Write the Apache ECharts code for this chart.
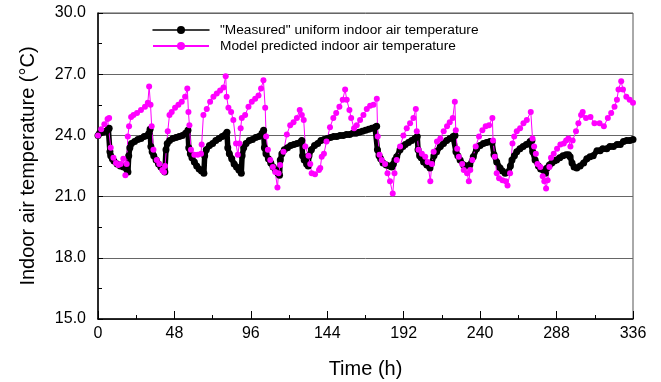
<!DOCTYPE html>
<html>
<head>
<meta charset="utf-8">
<script src="https://cdn.jsdelivr.net/npm/echarts@6/dist/echarts.min.js"></script>
<style>
html,body{margin:0;padding:0;background:#fff;}
#c{width:661px;height:382px;}
</style>
</head>
<body>
<div id="c"></div>
<script>
// ---- data ----
const xTicks = [0, 48, 96, 144, 192, 240, 288, 336];
const yTicks = [15.0, 18.0, 21.0, 24.0, 27.0, 30.0];
const seriesNames = ['"Measured" uniform indoor air temperature', 'Model predicted indoor air temperature'];

const measuredTime = [0,1,3,5,6.5,7,7.5,8,9,10,12,14,16,18,18.8,19.3,20,21,23,25,27,29,31,32,32.7,
  33.2,34,35,36.5,38,39.5,41,42,42.7,43.5,45,47,49,51,53,55,56.5,
  57,58,59,60.5,62,63.5,65,66.5,67,68,70,72,74,76,78,80,81,
  81.5,82.5,84,85.5,87,88.5,90,90.5,91.5,93,95,97,99,101,103,104,
  104.5,105.5,107,108.5,110,111.5,113,114,114.5,115.5,117,119,121,123,125,127,128,
  128.5,129.5,131,132,132.5,134,136,138,140,142,144,146,148,150,152,154,156,158,160,162,164,166,168,170,172,174,175,
  175.5,176.5,177.5,179,181,183,184.5,185.5,186.5,187.6,189.7,191.5,193,195,197,199,200.5,
  201,202,203,204.5,206.5,208.5,209.5,211,212.7,215,217,219,221,223,224.2,
  224.8,226,227.4,229.6,231.6,233.5,235.7,237.8,240,242,244,246.2,247.5,
  248.7,250.4,252.5,254,255.7,257.7,259,260,261.5,263,265,267,269,271.4,272.5,
  273,274.5,276.6,278,279.7,281,282,283.5,285,286.5,288,290,292,294,295.5,296.5,297.7,299,300.7,302.8,
  305,307,309,311,313.4,315.3,317,319.5,321.5,323.7,326,328,330,332,334,336];
const measuredTemp = [24.0,24.1,24.15,24.2,24.3,24.35,23.2,23.0,22.85,22.75,22.6,22.5,22.45,22.35,22.2,23.0,23.4,23.6,23.7,23.8,23.85,23.95,24.0,24.1,24.3,
  23.45,23.2,23.0,22.8,22.6,22.45,22.3,22.2,23.3,23.6,23.75,23.85,23.9,23.95,24.0,24.1,24.25,
  23.4,23.1,22.9,22.7,22.5,22.35,22.25,22.15,23.0,23.3,23.5,23.6,23.75,23.85,23.95,24.05,24.15,
  23.4,23.1,22.85,22.6,22.45,22.3,22.15,23.0,23.4,23.6,23.75,23.8,23.9,23.95,24.1,24.25,
  23.4,23.1,22.85,22.65,22.45,22.3,22.15,22.05,22.8,23.1,23.3,23.4,23.5,23.55,23.6,23.65,23.75,
  23.0,22.8,22.6,22.5,23.0,23.3,23.5,23.6,23.75,23.8,23.85,23.9,23.95,23.95,24.0,24.0,24.05,24.05,24.1,24.1,24.15,24.2,24.25,24.3,24.35,24.4,24.45,
  23.3,23.0,22.85,22.65,22.55,22.5,22.45,22.6,22.8,22.95,23.3,23.45,23.55,23.65,23.75,23.85,23.95,
  23.3,23.0,22.9,22.7,22.55,22.4,22.65,23.0,23.2,23.45,23.6,23.75,23.85,23.95,24.0,
  23.2,23.0,22.8,22.55,22.5,22.55,22.95,23.35,23.5,23.6,23.65,23.7,23.65,
  23.05,22.7,22.4,22.25,22.15,22.2,22.5,22.8,23.0,23.2,23.35,23.45,23.55,23.7,23.75,
  23.2,22.8,22.5,22.35,22.3,22.15,22.4,22.55,22.65,22.75,22.8,22.9,23.0,23.05,23.05,22.95,22.65,22.45,22.4,22.5,
  22.65,22.85,22.95,23.0,23.25,23.25,23.35,23.35,23.45,23.45,23.55,23.55,23.7,23.75,23.75,23.8];

const predictedTime = [0,2,4,6,7,8,9.7,11.3,12.8,14.2,15.9,17.2,18,18.7,19.5,20.8,22.3,24.5,27,29.5,31.3,32.1,33,33.7,34.8,36.9,38.5,40.4,41.5,42.1,
  43.8,44.9,46.3,48.4,50.5,52.6,54.7,56.1,56.8,57.4,58.4,60.5,62.6,64.7,65.1,66.2,68.3,70.4,72.5,74.6,76.7,78.8,80.2,80.8,81.9,83.6,85,86.7,87.8,88.8,
  89.6,90.3,92.4,94.5,96.6,98.7,100.8,102.4,103.9,105,105.6,106.7,108.2,109.8,111.3,112.7,113.4,114.4,116.5,118.6,120.7,122.8,124.9,126.7,128,129.2,
  130.2,132.2,133.3,134.2,136.3,138.8,139.6,140.5,141.9,143.5,145.7,147.8,149.6,151.6,153.7,155.2,156.2,157.9,159,160.8,162.5,164.6,166.7,168.8,170.9,173,175.1,
  175.7,176.8,178.2,180.3,181.8,183.4,185.1,186.2,187.6,189.7,191.8,193.9,196,198.1,199.6,200.2,201.3,203.4,205.5,207,208.7,209.7,210.8,212.9,215,217.1,219.2,220.9,222.8,224.1,
  224.7,225.6,226.6,228.7,229.7,231.8,232.9,233.8,235.1,237.2,239.3,241.4,243.5,245.6,247.7,248.1,249.2,250.4,251.9,254,256.1,257.2,258.8,260.3,261.4,263,265.1,267.2,269.3,271.8,
  272.9,273.9,275,276,277.8,279.3,280.3,281.4,282.4,283.5,284.5,286.2,288.3,290.4,292.5,294,295.4,296.7,298.1,300.2,301.7,303.4,304.4,306.5,309.3,311.8,315,317.7,320.2,322.3,
  324.4,325.9,326.9,328.6,329.7,331.8,333.9,336];
const predictedTemp = [24.0,24.3,24.55,24.8,24.85,23.4,22.9,22.65,22.55,22.6,22.85,22.05,22.6,23.95,24.45,24.9,25.0,25.1,25.25,25.4,25.6,26.4,25.5,24.45,23.3,22.8,22.6,22.3,22.2,22.5,
  24.2,25.0,25.15,25.35,25.5,25.65,25.9,26.3,25.15,24.5,23.3,23.05,23.05,23.1,23.55,25.0,25.3,25.65,25.9,26.05,26.2,26.35,26.9,25.9,25.35,25.15,24.75,23.6,23.05,23.6,
  24.35,24.85,25.0,25.4,25.65,25.8,25.95,26.3,26.7,25.35,23.95,23.3,22.8,22.45,22.2,21.45,22.15,22.55,23.2,24.05,24.5,24.65,24.85,25.25,25.0,24.75,
  23.45,23.0,22.6,22.15,22.1,22.3,22.4,22.95,23.1,23.7,24.4,24.85,25.1,25.4,25.75,26.25,25.75,25.25,24.85,24.35,24.5,24.75,25.0,25.3,25.45,25.5,25.8,
  23.95,23.05,22.8,22.6,22.15,21.75,21.15,22.15,22.8,23.45,24.0,24.35,24.6,24.85,25.3,24.2,23.3,23.1,22.95,22.7,21.75,22.6,23.2,23.7,23.85,24.2,24.45,24.65,24.85,25.65,
  24.25,23.35,22.95,22.6,22.3,22.15,21.75,22.3,22.8,23.45,23.95,24.25,24.45,24.5,24.85,23.75,22.95,22.15,21.9,21.8,21.75,21.55,22.15,23.6,23.95,24.2,24.35,24.6,24.75,25.15,
  23.85,23.45,23.1,22.6,22.45,22.0,21.75,21.4,21.8,22.45,22.9,23.1,23.35,23.55,23.6,23.75,23.85,23.45,23.75,24.2,24.6,25.0,25.15,24.85,24.9,24.6,24.6,24.45,24.85,25.1,
  25.4,25.75,26.25,26.65,26.25,25.9,25.75,25.6];

// ---- chart ----
const FONT = '"Liberation Sans", Arial, sans-serif';
const chart = echarts.init(document.getElementById('c'), null, {renderer: 'canvas'});
const zip = (t, v) => t.map((x, i) => [x, v[i]]);

chart.setOption({
  animation: false,
  backgroundColor: '#ffffff',
  grid: {left: 98, right: 28, top: 13, bottom: 63, outerBoundsMode: 'none', containLabel: false,
         show: true, borderColor: '#555', borderWidth: 1, backgroundColor: 'transparent'},
  legend: {
    left: 152, top: 23, orient: 'vertical', itemWidth: 56, itemHeight: 10, itemGap: 2, padding: 0,
    textStyle: {fontFamily: FONT, fontSize: 13.7, lineHeight: 14, color: '#000', padding: [0, 0, 0, 6]},
    data: [
      {name: seriesNames[0], lineStyle: {width: 1.5}},
      {name: seriesNames[1]}
    ]
  },
  xAxis: {
    type: 'value', min: xTicks[0], max: xTicks[xTicks.length - 1], interval: 48,
    name: 'Time (h)', nameLocation: 'middle', nameGap: 40,
    nameTextStyle: {fontFamily: FONT, fontSize: 20, color: '#000'},
    axisLine: {show: true, lineStyle: {color: '#000', width: 1.5}},
    axisTick: {show: true, inside: true, length: 8, lineStyle: {color: '#000'}},
    minorTick: {show: true, splitNumber: 2, length: 4, lineStyle: {color: '#000'}},
    axisLabel: {fontFamily: FONT, fontSize: 16, color: '#000', margin: 7},
    splitLine: {show: false}
  },
  yAxis: {
    type: 'value', min: yTicks[0], max: yTicks[yTicks.length - 1], interval: 3,
    name: 'Indoor air temperature (°C)', nameLocation: 'middle', nameGap: 60,
    nameTextStyle: {fontFamily: FONT, fontSize: 20, color: '#000'},
    axisLine: {show: true, lineStyle: {color: '#000', width: 1.5}},
    axisTick: {show: true, inside: true, length: 5, lineStyle: {color: '#000'}},
    minorTick: {show: true, splitNumber: 2, length: 4, lineStyle: {color: '#000'}},
    axisLabel: {fontFamily: FONT, fontSize: 16, color: '#000', margin: 12, formatter: v => v.toFixed(1)},
    splitLine: {show: true, lineStyle: {color: '#666', width: 1}}
  },
  series: [
    {
      name: seriesNames[0], type: 'line', data: zip(measuredTime, measuredTemp),
      symbol: 'circle', symbolSize: 7, showAllSymbol: true,
      lineStyle: {color: '#000', width: 5.5, cap: 'round', join: 'round'}, itemStyle: {color: '#000'}
    },
    {
      name: seriesNames[1], type: 'line', data: zip(predictedTime, predictedTemp),
      symbol: 'circle', symbolSize: 6, showAllSymbol: true,
      lineStyle: {color: '#ff00ff', width: 1}, itemStyle: {color: '#ff00ff'}
    }
  ]
});
</script>
</body>
</html>
